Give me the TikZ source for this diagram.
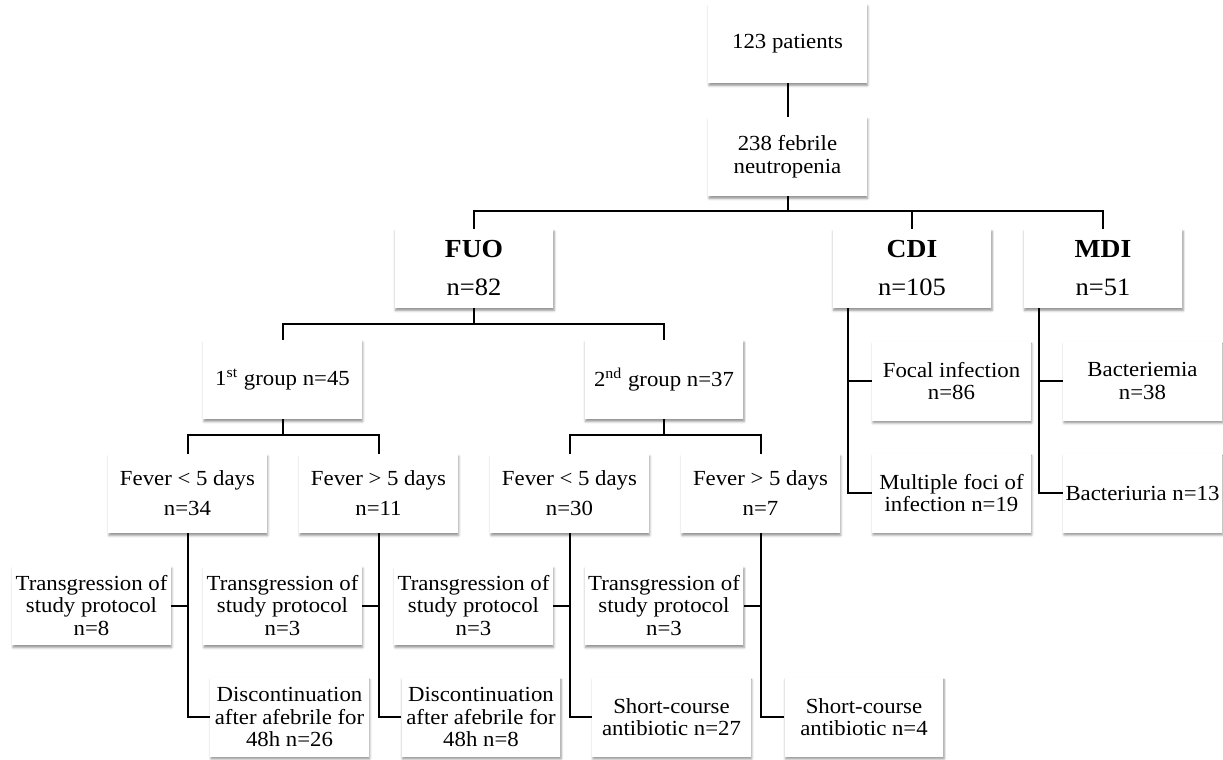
\documentclass[tikz,border=0pt]{standalone}
\usepackage{fontspec}
\setmainfont[FakeStretch=1.06]{Liberation Serif}
\usetikzlibrary{shadows.blur}

\begin{document}
\begin{tikzpicture}[x=0.5pt, y=-0.5pt,
  box/.style={fill=white, minimum width=79.25pt, minimum height=39.5pt, inner sep=0pt, align=center,
    font=\fontsize{10.75pt}{11.25pt}\selectfont,
    blur shadow={shadow xshift=0.4pt, shadow yshift=-1.2pt, shadow blur radius=1.2pt, shadow opacity=45}},
  bigbox/.style={box, font=\fontsize{12.5pt}{13pt}\selectfont},
  link/.style={draw=black, line width=1pt}]
\useasboundingbox (0,0) rectangle (1223,760);

% top of the tree
\node[box] (pat) at (787.5,43.5) {123 patients};
\node[box] (feb) at (787.5,156.5) {238 febrile\\neutropenia};

\node[bigbox] (fuo) at (474,268.5) {\textbf{\fontsize{13pt}{13pt}\selectfont FUO}\\[6pt]n=82};
\node[bigbox] (cdi) at (912,268.5) {\textbf{\fontsize{13pt}{13pt}\selectfont CDI}\\[6pt]n=105};
\node[bigbox] (mdi) at (1103,268.5) {\textbf{\fontsize{13pt}{13pt}\selectfont MDI}\\[6pt]n=51};

\node[box] (g1) at (282.5,379.5) {1\textsuperscript{st} group n=45};
\node[box] (g2) at (664,379.5) {2\textsuperscript{nd} group n=37};

\node[box] (f1a) at (187.5,493.5) {Fever < 5 days\\[3.75pt]n=34};
\node[box] (f1b) at (378.5,493.5) {Fever > 5 days\\[3.75pt]n=11};
\node[box] (f2a) at (569.5,493.5) {Fever < 5 days\\[3.75pt]n=30};
\node[box] (f2b) at (760.5,493.5) {Fever > 5 days\\[3.75pt]n=7};

\node[box] (t1) at (91.5,605.5) {Transgression of\\study protocol\\n=8};
\node[box] (t2) at (282.5,605.5) {Transgression of\\study protocol\\n=3};
\node[box] (t3) at (473.5,605.5) {Transgression of\\study protocol\\n=3};
\node[box] (t4) at (664,605.5) {Transgression of\\study protocol\\n=3};

\node[box] (d1) at (289.5,717) {Discontinuation\\after afebrile for\\48h n=26};
\node[box] (d2) at (481,717) {Discontinuation\\after afebrile for\\48h n=8};
\node[box] (s1) at (671.5,717) {Short-course\\antibiotic n=27};
\node[box] (s2) at (864,717) {Short-course\\antibiotic n=4};

\node[box] (foc) at (951.5,381) {Focal infection\\n=86};
\node[box] (mul) at (951.5,493) {Multiple foci of\\infection n=19};
\node[box] (bac) at (1142.5,381) {Bacteriemia\\n=38};
\node[box] (bur) at (1142.5,493) {Bacteriuria n=13};

% connectors
\draw[link] (pat) -- (feb);
\draw[link] (feb.south) -- ++(0,14.5) coordinate (j0);
\draw[link] (fuo.north) |- (j0) -| (mdi.north);
\draw[link] (cdi.north) -- (cdi.north |- j0);

\draw[link] (fuo.south) -- ++(0,16) coordinate (j1);
\draw[link] (g1.north) |- (j1) -| (g2.north);

\draw[link] (g1.south) -- ++(0,16) coordinate (j2);
\draw[link] (f1a.north) |- (j2) -| (f1b.north);
\draw[link] (g2.south) -- ++(0,16) coordinate (j3);
\draw[link] (f2a.north) |- (j3) -| (f2b.north);

\draw[link] (f1a.south) |- (d1.west);
\draw[link] (t1.east) -- (t1.east -| f1a.south);
\draw[link] (f1b.south) |- (d2.west);
\draw[link] (t2.east) -- (t2.east -| f1b.south);
\draw[link] (f2a.south) |- (s1.west);
\draw[link] (t3.east) -- (t3.east -| f2a.south);
\draw[link] (f2b.south) |- (s2.west);
\draw[link] (t4.east) -- (t4.east -| f2b.south);

\coordinate (cdiv) at ([xshift=8pt]cdi.south west);
\coordinate (mdiv) at ([xshift=8pt]mdi.south west);
\draw[link] (cdiv) |- (mul.west);
\draw[link] (foc.west) -- (foc.west -| cdiv);
\draw[link] (mdiv) |- (bur.west);
\draw[link] (bac.west) -- (bac.west -| mdiv);
\end{tikzpicture}
\end{document}
